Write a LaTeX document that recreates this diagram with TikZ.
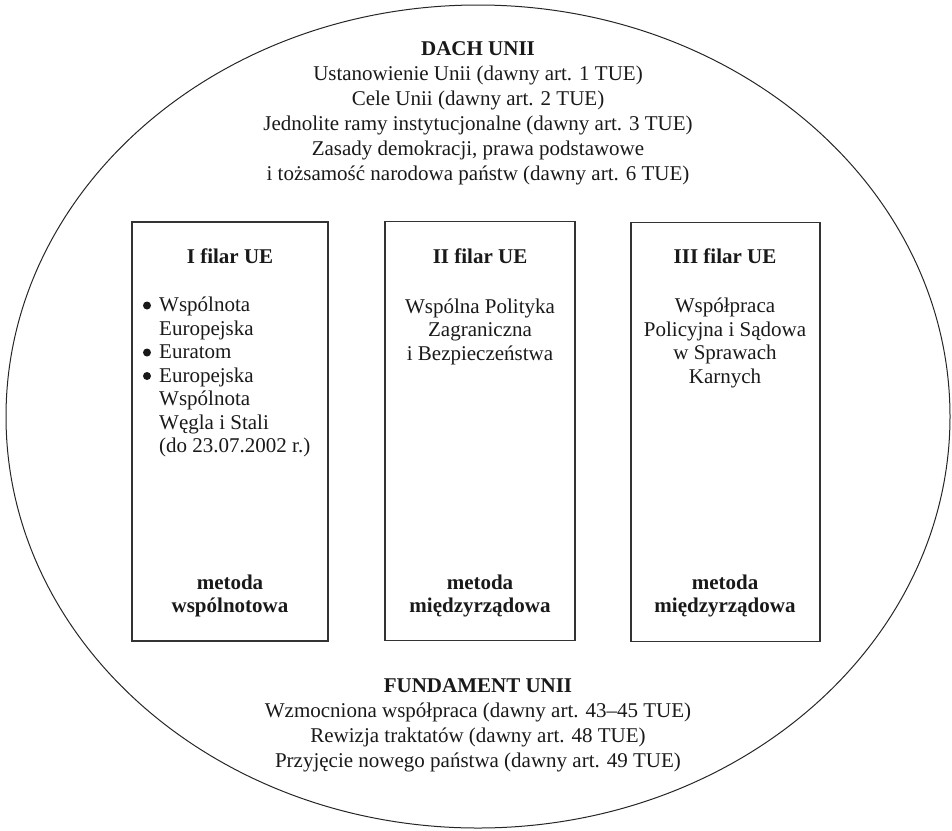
\documentclass[tikz,border=0pt]{standalone}
\usepackage{fontspec}
\setmainfont{Liberation Serif}
\begin{document}
\begin{tikzpicture}[x=1pt,y=-1pt,
  txt/.style={font=\fontsize{21}{25}\selectfont, text=black!90, inner sep=0pt, align=center},
  boxtxt/.style={font=\fontsize{21}{23.5}\selectfont, text=black!90, inner sep=0pt, align=center},
  pillar/.style={draw=black!80, line width=1.2pt, minimum height=419pt, inner sep=0pt},
  outer/.style={draw=black!85, line width=1pt},
  dot/.style={fill=black!90}]
\useasboundingbox (0,0) rectangle (952,830);
\draw[outer] (478,416.5) ellipse [x radius=472, y radius=411.5];
\node[txt] (dach) at (478,113) {\textbf{DACH UNII}\\
Ustanowienie Unii (dawny art. 1 TUE)\\
Cele Unii (dawny art. 2 TUE)\\
Jednolite ramy instytucjonalne (dawny art. 3 TUE)\\
Zasady demokracji, prawa podstawowe\\
i tożsamość narodowa państw (dawny art. 6 TUE)};
\node[pillar, minimum width=196pt] (p1) at (230,431.5) {};
\node[pillar, minimum width=190pt] (p2) at (480,431) {};
\node[pillar, minimum width=189pt] (p3) at (725.5,432) {};
\node[boxtxt] (t1) at (230,256) {\textbf{I filar UE}};
\node[boxtxt] (t2) at (480,256) {\textbf{II filar UE}};
\node[boxtxt] (t3) at (725,256) {\textbf{III filar UE}};
\node[boxtxt, anchor=west, align=left] (l1) at (143,377.5) {%
\begin{tabular}{@{}l@{\hspace{9pt}}l@{}}
\hspace{7pt} & Wspólnota\\
 & Europejska\\
 & Euratom\\
 & Europejska\\
 & Wspólnota\\
 & Węgla i Stali\\
 & (do 23.07.2002 r.)
\end{tabular}};
\fill[dot] (147,305.5) circle [radius=4];
\fill[dot] (147,352.5) circle [radius=4];
\fill[dot] (147,376) circle [radius=4];
\node[boxtxt] (l2) at (480,331.5) {Wspólna Polityka\\ Zagraniczna\\ i Bezpieczeństwa};
\node[boxtxt] (l3) at (725,343) {Współpraca\\ Policyjna i Sądowa\\ w Sprawach\\ Karnych};
\node[boxtxt] (m1) at (230,596) {\textbf{metoda}\\ \textbf{wspólnotowa}};
\node[boxtxt] (m2) at (480,596) {\textbf{metoda}\\ \textbf{międzyrządowa}};
\node[boxtxt] (m3) at (725,596) {\textbf{metoda}\\ \textbf{międzyrządowa}};
\node[txt] (fund) at (478,725) {\textbf{FUNDAMENT UNII}\\
Wzmocniona współpraca (dawny art. 43–45 TUE)\\
Rewizja traktatów (dawny art. 48 TUE)\\
Przyjęcie nowego państwa (dawny art. 49 TUE)};
\end{tikzpicture}
\end{document}
